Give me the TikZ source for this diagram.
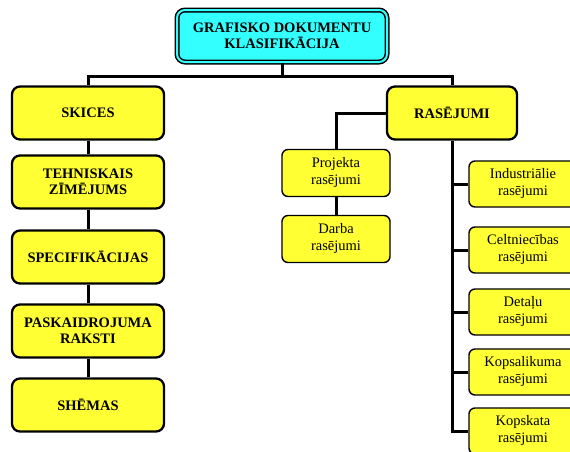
\documentclass[tikz,border=0pt]{standalone}
\usepackage{fontspec}
\setmainfont{Liberation Serif}
\definecolor{boxyellow}{HTML}{FFFF33}
\definecolor{topcyan}{HTML}{33FFFF}
\tikzset{
    mainbox/.style={draw, line width=2.3pt, rounded corners=8pt, fill=boxyellow,
        align=center, inner sep=0pt, minimum width=152pt, minimum height=53pt,
        font=\fontsize{14.5}{16.5}\selectfont\bfseries},
    subbox/.style={draw, line width=1.4pt, rounded corners=6pt, fill=boxyellow,
        align=center, inner sep=0pt, minimum width=108pt, minimum height=46pt,
        font=\fontsize{14.5}{17}\selectfont},
    conn/.style={line width=3pt}
}
\begin{document}
\begin{tikzpicture}[x=1pt, y=-1pt]
        \useasboundingbox (0,0) rectangle (570,451);
        % Top box
        \node[mainbox, fill=topcyan, line width=1.5pt, double=topcyan, double distance=2pt,
              minimum width=210pt, minimum height=52pt] (top) at (282,36)
              {GRAFISKO DOKUMENTU\\KLASIFIKĀCIJA};
        \coordinate (bus) at (282,76);
        
        % Left column
        \node[mainbox] (skices) at (88,113) {SKICES};
        \node[mainbox] (tehn) at (88,182) {TEHNISKAIS\\ZĪMĒJUMS};
        \node[mainbox] (spec) at (88,257) {SPECIFIKĀCIJAS};
        \node[mainbox] (pask) at (88,331) {PASKAIDROJUMA\\RAKSTI};
        \node[mainbox] (shem) at (88,405) {SHĒMAS};
        
        % Right part
        \node[mainbox, minimum width=130pt] (ras) at (452,113) {RASĒJUMI};
        \node[subbox, minimum height=47pt] (proj) at (336,173) {Projekta\\rasējumi};
        \node[subbox, minimum height=47pt] (darba) at (336,239) {Darba\\rasējumi};
        
        \node[subbox] (ind) at (523,184) {Industriālie\\rasējumi};
        \node[subbox] (celt) at (523,250) {Celtniecības\\rasējumi};
        \node[subbox] (det) at (523,312) {Detaļu\\rasējumi};
        \node[subbox] (kops) at (523,372) {Kopsalikuma\\rasējumi};
        \node[subbox] (kskat) at (523,431) {Kopskata\\rasējumi};
        
        % Connectors
        \draw[conn] (top) -- (bus);
        \draw[conn] (skices) |- (bus) -| (ras);
        \draw[conn] (skices) -- (tehn);
        \draw[conn] (tehn) -- (spec);
        \draw[conn] (spec) -- (pask);
        \draw[conn] (pask) -- (shem);
        
        \draw[conn] (ras.west) -| (proj);
        \draw[conn] (proj) -- (darba);
        \draw[conn] (ras) |- (kskat.west);
        \draw[conn] (ras.south |- ind.west) -- (ind.west);
        \draw[conn] (ras.south |- celt.west) -- (celt.west);
        \draw[conn] (ras.south |- det.west) -- (det.west);
        \draw[conn] (ras.south |- kops.west) -- (kops.west);
\end{tikzpicture}
\end{document}
